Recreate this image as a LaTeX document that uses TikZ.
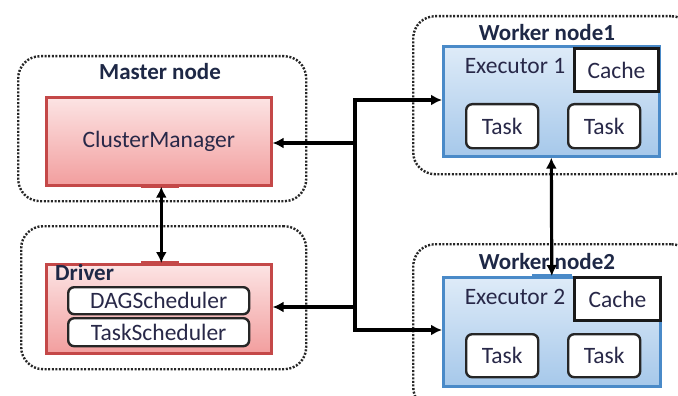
\documentclass[tikz,border=0pt]{standalone}
\usepackage{fontspec}
\setmainfont{Carlito}
\usetikzlibrary{arrows.meta}
\definecolor{txt}{RGB}{40,40,72}
\definecolor{titlecol}{RGB}{30,40,70}
\definecolor{redline}{RGB}{196,72,72}
\definecolor{redtop}{RGB}{252,228,228}
\definecolor{redbot}{RGB}{242,158,158}
\definecolor{blueline}{RGB}{74,138,200}
\definecolor{bluetop}{RGB}{222,235,248}
\definecolor{bluebot}{RGB}{166,200,234}
\tikzset{
  container/.style={draw=black!85, line width=2.4pt, dash pattern=on 2pt off 1.6pt,
    rounded corners=22pt, inner sep=0pt, anchor=north west},
  redbox/.style={draw=redline, line width=2.6pt, top color=redtop, bottom color=redbot,
    inner sep=0pt, anchor=north west, text=txt},
  bluebox/.style={draw=blueline, line width=2.6pt, top color=bluetop, bottom color=bluebot,
    inner sep=0pt, anchor=north west},
  taskbox/.style={draw=black!85, line width=2.4pt, fill=white, rounded corners=6pt,
    inner sep=0pt, anchor=north west, text=txt},
  cachebox/.style={draw=black!90, line width=3pt, fill=white, inner sep=0pt,
    anchor=north west, text=txt},
  title/.style={font=\fontsize{23}{27}\selectfont\bfseries, text=titlecol, inner sep=0pt},
  plain/.style={text=txt, inner sep=0pt},
  conn/.style={line width=3.2pt, -{Latex[length=11pt,width=11pt]}},
  dconn/.style={line width=3.2pt, {Latex[length=11pt,width=11pt]}-{Latex[length=11pt,width=11pt]}},
}
\begin{document}
\begin{tikzpicture}[x=1pt,y=-1pt,font=\fontsize{23.5}{28}\selectfont]
\useasboundingbox (0,0) rectangle (678,396);
\clip (0,0) rectangle (678,396);
\fill[white] (0,0) rectangle (678,396);

% containers
\node[container, minimum width=288pt, minimum height=145pt] (mnode) at (17,55) {};
\node[container, minimum width=285pt, minimum height=143pt] (mprog) at (20,225) {};
\node[container, minimum width=280pt, minimum height=158pt] (w1) at (412,15) {};
\node[container, minimum width=280pt, minimum height=165pt] (w2) at (412,243) {};

% master node
\node[redbox, minimum width=225pt, minimum height=88pt] (cm) at (45,96) {ClusterManager};
\node[title] (mnodelbl) at (160,72) {Master node};

% master program
\node[redbox, minimum width=225pt, minimum height=89pt] (driver) at (45,263) {};
\node[title, anchor=west] (driverlbl) at (55,273) {Driver};
\node[taskbox, minimum width=181pt, minimum height=27pt] (dag) at (67,286) {DAGScheduler};
\node[taskbox, minimum width=181pt, minimum height=28pt] (tsched) at (67,317) {TaskScheduler};

% worker node 1
\node[bluebox, minimum width=216pt, minimum height=110pt] (ex1) at (442,45) {};
\node[plain] (ex1lbl) at (515,66) {Executor 1};
\node[cachebox, minimum width=84pt, minimum height=43pt] (cache1) at (573,47) {Cache};
\node[taskbox, minimum width=72pt, minimum height=44pt] (t11) at (465,103) {Task};
\node[taskbox, minimum width=72pt, minimum height=44pt] (t12) at (567,103) {Task};

% worker node 2
\node[bluebox, minimum width=217pt, minimum height=109pt] (ex2) at (442,276) {};
\node[plain] (ex2lbl) at (515,297) {Executor 2};
\node[cachebox, minimum width=86pt, minimum height=43pt] (cache2) at (573,276) {Cache};
\node[taskbox, minimum width=72pt, minimum height=43pt] (t21) at (465,333) {Task};
\node[taskbox, minimum width=72pt, minimum height=43pt] (t22) at (567,333) {Task};

\node[title] (w1lbl) at (547,33) {Worker node1};
\node[title] (w2lbl) at (547,262) {Worker node2};

% highlights at arrow ends
\draw[line width=3.5pt, redline] ([xshift=-18pt]cm.south) -- ([xshift=20pt]cm.south);
\draw[line width=3.5pt, redline] ([xshift=-18pt]driver.north) -- ([xshift=20pt]driver.north);
\draw[line width=3.5pt, blueline] ([xshift=-20pt]ex2.north) -- ([xshift=20pt]ex2.north);

% connectors
\coordinate (jtop) at (355,100);
\coordinate (jcm) at (355,143);
\coordinate (jdrv) at (355,307);
\coordinate (jbot) at (355,330);
\draw[conn] (jcm) -- (jtop) -- (jtop -| ex1.west);
\draw[conn] (jcm) -- (jbot) -- (jbot -| ex2.west);
\draw[conn] (jcm) -- (jcm -| cm.east);
\draw[conn] (jdrv) -- (jdrv -| driver.east);
\draw[dconn] ([xshift=2.5pt]cm.south) -- ([xshift=2.5pt]driver.north);
\draw[dconn] (ex1.south) -- (ex2.north);
\end{tikzpicture}
\end{document}
